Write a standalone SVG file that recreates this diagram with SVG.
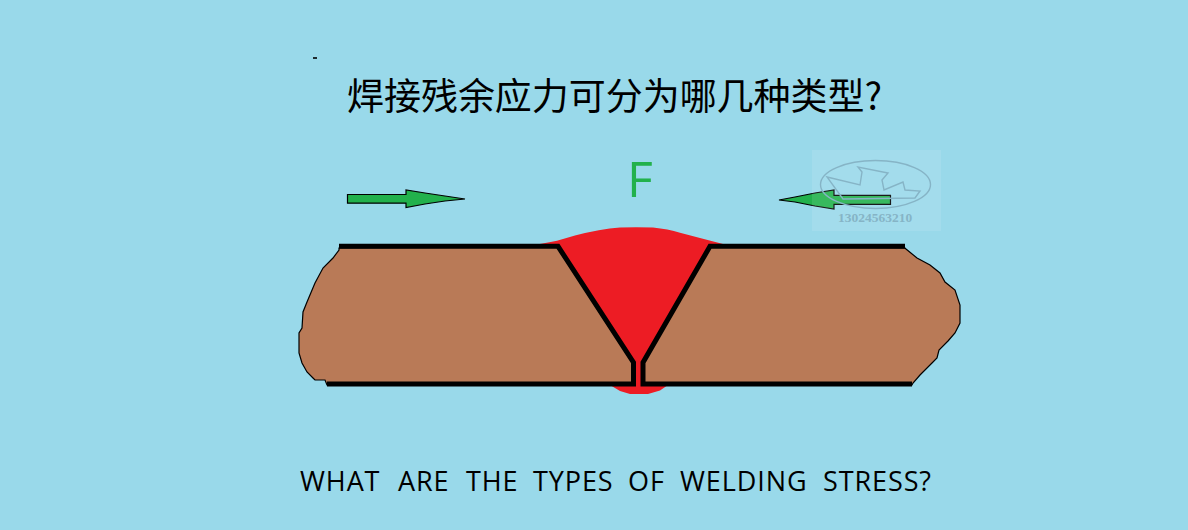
<svg xmlns="http://www.w3.org/2000/svg" width="1188" height="530" viewBox="0 0 1188 530">
<style>
.cn{font-family:"Noto Sans CJK SC","Noto Sans CJK JP",sans-serif;font-size:37px;fill:#000}
.en{font-family:"Open Sans","Noto Sans",sans-serif;font-size:27px;letter-spacing:.9px;fill:#000}
.plate{fill:#b97a57;stroke:#000;stroke-width:1.2}
.bar{stroke:#000;stroke-width:5;fill:none;stroke-linejoin:miter}
.arrow{fill:#22b14c;stroke:#000;stroke-width:1.2}
.wm{fill:none;stroke:#86b4c6;stroke-width:1.4}
</style>
<rect width="1188" height="530" fill="#99d9ea"/>
<path d="M313 58h4" stroke="#000" stroke-width="1.6"/>
<g id="title"><text class="cn" x="347" y="110" textLength="535" lengthAdjust="spacingAndGlyphs">焊接残余应力可分为哪几种类型?</text></g>
<g id="force-label"><text x="627" y="197" font-family="Open Sans,Noto Sans,sans-serif" font-size="50" fill="#22b14c">F</text></g>
<g id="weld">
<path d="M540 244Q550 242 557 240.700L575 235.500Q600 229 620 227.500Q636 226.800 653 227.500Q668 229 680 232.700L700 238L723 244L712 250L643 364H641V385H668L660 390.500L648 394H630L620 391L610 385H636V364H634L556 250Z" fill="#ed1c24"/>
</g>
<g id="left-plate">
<path class="plate" d="M339 248V250L333 258L323 268L315 283L307 302L303 312L302 328L299 333V353L302 363L307 372L313 378L315 380H325L327 385H633V364L557 247Z"/>
</g>
<g id="right-plate">
<path class="plate" d="M905 248L906 249L917 258L930 265L940 273L945 282L955 290L960 305V323L955 333L948 341L939 350L937 358L932 363L920 375L913 383L912 385H643V364L710 247Z"/>
</g>
<g id="connectors">
<path class="bar" d="M339 246.300H558L633.500 362.500V386.500M327 384H636M905 246.300H710L643 362.500V384H912"/>
<path id="arrow-right" class="arrow" d="M347.500 194.500H406V190L425 193L445 196L465 199L445 201L425 204L406 207.500V203.200H347.500Z"/>
<path id="arrow-left" class="arrow" d="M890.500 195.300H834V190L815 193L795 197L779 200L795 202L815 206L834 209V204.300H890.500Z"/>
</g>
<g id="watermark">
<rect x="812" y="150" width="129" height="81" fill="#fff" opacity="0.1"/>
<ellipse class="wm" cx="875.500" cy="184.500" rx="55" ry="24"/>
<path class="wm" d="M827 177L860 185L862 172L858 167L888 173L882 180L884 190L903 182L905 190L920 191L915 198L843 199Z"/>
<text x="838" y="222" font-family="Liberation Serif,serif" font-size="13.500" font-weight="bold" fill="#86b4c6">13024563210</text>
</g>
<g id="caption">
<text class="en" y="491"><tspan x="300">WHAT</tspan><tspan x="398">ARE</tspan><tspan x="466">THE</tspan><tspan x="533">TYPES</tspan><tspan x="628">OF</tspan><tspan x="680">WELDING</tspan><tspan x="823">STRESS?</tspan></text>
</g>
</svg>
